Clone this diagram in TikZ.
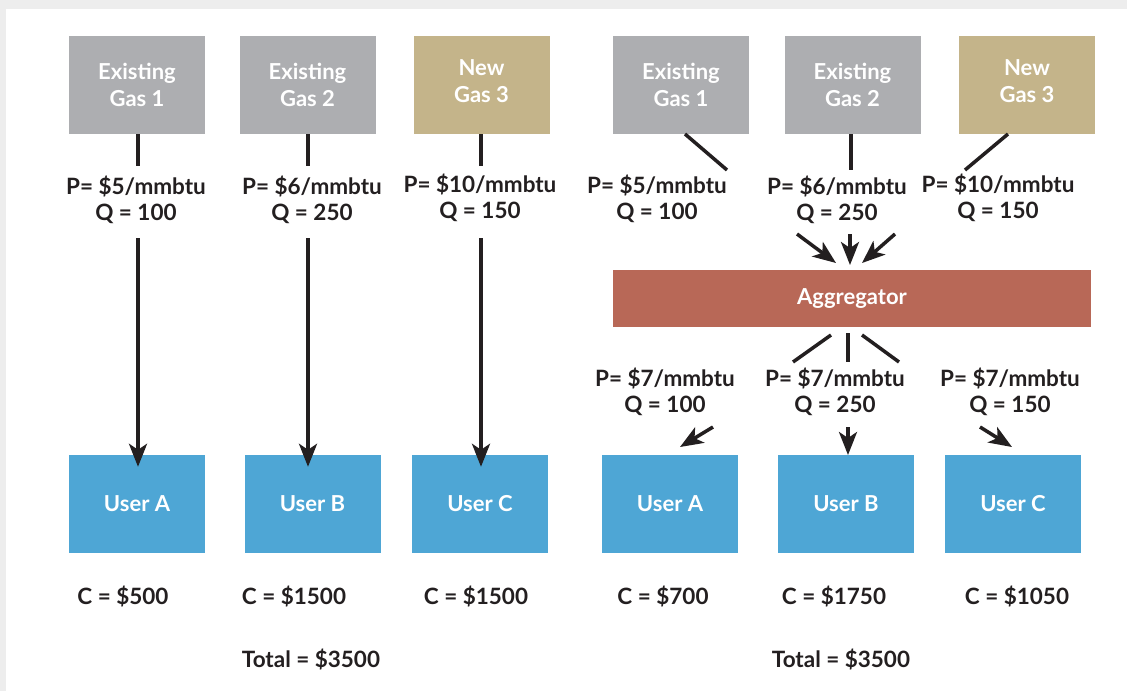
\documentclass[tikz,border=0pt]{standalone}
\usepackage{fontspec}
\setmainfont{Lato}
\usetikzlibrary{arrows.meta}
\definecolor{gasgray}{HTML}{ADAEB1}
\definecolor{gastan}{HTML}{C4B48A}
\definecolor{aggred}{HTML}{B86857}
\definecolor{userblue}{HTML}{4EA6D5}
\definecolor{frame}{HTML}{EDEDED}
\definecolor{ink}{HTML}{231F20}
\tikzset{
  box/.style={minimum width=136pt, minimum height=98pt, inner sep=0pt, text=white, font=\fontsize{22}{27}\selectfont\bfseries, align=center},
  gasbox/.style={box, fill=gasgray},
  newbox/.style={box, fill=gastan},
  userbox/.style={box, fill=userblue},
  lbl/.style={text=ink, font=\fontsize{22.5}{26}\selectfont\bfseries, align=center, inner sep=0pt},
  ln/.style={draw=ink, line width=3.5pt},
  arr/.style={ln, -{Stealth[length=23pt, width=18pt, inset=6pt]}},
}
\begin{document}
\begin{tikzpicture}[x=1pt,y=-1pt]
\fill[frame] (0,0) rectangle (1127,691);
\fill[white] (6,9) rectangle (1127,691);
\useasboundingbox (0,0) rectangle (1127,691);
% ---------- left panel ----------
\node[gasbox] (L1) at (137,85) {Existing\\Gas 1};
\node[gasbox] (L2) at (307.5,85) {Existing\\Gas 2};
\node[newbox] (L3) at (481.5,85) {New\\Gas 3\rule[-8pt]{0pt}{8pt}};
\node[userbox] (UA) at (137,504) {User A};
\node[userbox] (UB) at (312.5,504) {User B};
\node[userbox] (UC) at (480,504) {User C};
\node[lbl] (LP1) at (136,200) {P= \$5/mmbtu\\Q = 100};
\node[lbl] (LP2) at (312,200) {P= \$6/mmbtu\\Q = 250};
\node[lbl] (LP3) at (480,198) {P= \$10/mmbtu\\Q = 150};
\coordinate (s1) at (138,166);
\coordinate (s2) at (308,166);
\coordinate (s3) at (481,166);
\coordinate (t1) at (138,238);
\coordinate (t2) at (308,238);
\coordinate (t3) at (481,238);
\draw[ln] (L1.south -| s1) -- (s1);
\draw[ln] (L2.south -| s2) -- (s2);
\draw[ln] (L3.south -| s3) -- (s3);
\draw[arr] (t1) -- ([yshift=-12pt]UA.north -| t1);
\draw[arr] (t2) -- ([yshift=-12pt]UB.north -| t2);
\draw[arr] (t3) -- ([yshift=-12pt]UC.north -| t3);
\node[lbl] (LC1) at (123,596) {C = \$500};
\node[lbl] (LC2) at (294,596) {C = \$1500};
\node[lbl] (LC3) at (476,596) {C = \$1500};
\node[lbl] (LT) at (311,659) {Total = \$3500};
% ---------- right panel ----------
\node[gasbox] (R1) at (681,85) {Existing\\Gas 1};
\node[gasbox] (R2) at (852.5,85) {Existing\\Gas 2};
\node[newbox] (R3) at (1027,85) {New\\Gas 3\rule[-8pt]{0pt}{8pt}};
\node[fill=aggred, minimum width=478pt, minimum height=57pt, inner sep=0pt, text=white, font=\fontsize{22}{27}\selectfont\bfseries] (AG) at (852,298.5) {Aggregator};
\node[userbox] (VA) at (670,504) {User A};
\node[userbox] (VB) at (846,504) {User B};
\node[userbox] (VC) at (1013,504) {User C};
\node[lbl] (RP1) at (657,199) {P= \$5/mmbtu\\Q = 100};
\node[lbl] (RP2) at (837,200) {P= \$6/mmbtu\\Q = 250};
\node[lbl] (RP3) at (998,198) {P= \$10/mmbtu\\Q = 150};
\node[lbl] (RQ1) at (665,392) {P= \$7/mmbtu\\Q = 100};
\node[lbl] (RQ2) at (835,392) {P= \$7/mmbtu\\Q = 250};
\node[lbl] (RQ3) at (1010,392) {P= \$7/mmbtu\\Q = 150};
% supply lines
\coordinate (a1) at (685,134); \coordinate (b1) at (727,170);
\coordinate (a2) at (851,134); \coordinate (b2) at (851,170);
\coordinate (a3) at (1008,134); \coordinate (b3) at (965,170);
\draw[ln] (a1) -- (b1);
\draw[ln] (a2) -- (b2);
\draw[ln] (a3) -- (b3);
\coordinate (c1) at (797,234); \coordinate (d1) at (836,263);
\coordinate (c2) at (850,234); \coordinate (d2) at (850,265);
\coordinate (c3) at (895,234); \coordinate (d3) at (862,263);
\draw[arr] (c1) -- (d1);
\draw[arr] (c2) -- (d2);
\draw[arr] (c3) -- (d3);
% distribution lines
\coordinate (e1) at (831,335); \coordinate (f1) at (793,362);
\coordinate (e2) at (848,333); \coordinate (f2) at (848,362);
\coordinate (e3) at (862,335); \coordinate (f3) at (899,362);
\draw[ln] (e1) -- (f1);
\draw[ln] (e2) -- (f2);
\draw[ln] (e3) -- (f3);
\coordinate (g1) at (713,427); \coordinate (h1) at (680,447);
\coordinate (g2) at (848,427); \coordinate (h2) at (848,455);
\coordinate (g3) at (980,427); \coordinate (h3) at (1012,447);
\draw[arr] (g1) -- (h1);
\draw[arr] (g2) -- (h2);
\draw[arr] (g3) -- (h3);
\node[lbl] (RC1) at (663,596) {C = \$700};
\node[lbl] (RC2) at (834,596) {C = \$1750};
\node[lbl] (RC3) at (1017,596) {C = \$1050};
\node[lbl] (RT) at (841,659) {Total = \$3500};
\end{tikzpicture}
\end{document}
